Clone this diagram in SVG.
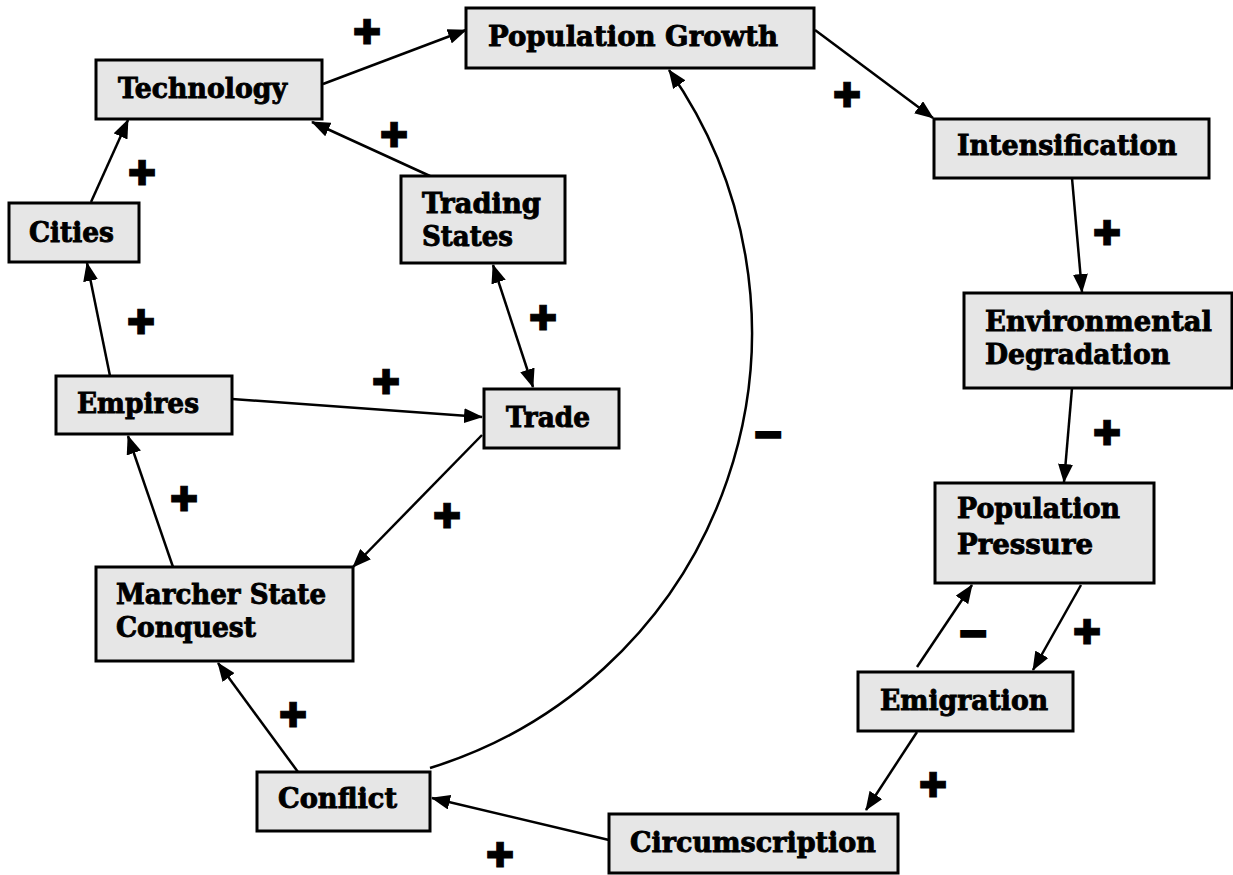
<svg xmlns="http://www.w3.org/2000/svg" width="1233" height="875" viewBox="0 0 1233 875">
<defs>
<marker id="ah" markerUnits="userSpaceOnUse" markerWidth="19" markerHeight="15" refX="18" refY="7.5" orient="auto-start-reverse" viewBox="0 0 19 15">
<path d="M0,0 L19,7.5 L0,15 z" fill="#000"/>
</marker>
<style>
.box{fill:#e6e6e6;stroke:#000;stroke-width:3}
.lbl{font-family:"DejaVu Serif","Liberation Serif",serif;font-weight:bold;font-size:27px;fill:#000;stroke:#000;stroke-width:0.9}
.c{fill:none;stroke:#000;stroke-width:2.5;marker-end:url(#ah)}
.pl{font-family:"DejaVu Sans",sans-serif;font-size:34px;fill:#000;stroke:#000;stroke-width:1;text-anchor:middle}
.mn{font-family:"DejaVu Sans",sans-serif;font-weight:bold;font-size:36px;fill:#000;stroke:#000;stroke-width:3.5;text-anchor:middle}
</style>
</defs>
<rect width="1233" height="875" fill="#fff"/>
<g id="connectors">
<line class="c" x1="323" y1="84" x2="466" y2="30"/>
<line class="c" x1="815" y1="30" x2="933" y2="118"/>
<line class="c" x1="430" y1="176" x2="312" y2="122"/>
<line class="c" x1="91" y1="202" x2="128" y2="120"/>
<line class="c" x1="1072" y1="178" x2="1082" y2="292"/>
<line class="c" x1="1072" y1="388" x2="1064" y2="482"/>
<line class="c" x1="493" y1="265" x2="533" y2="387" marker-start="url(#ah)"/>
<line class="c" x1="110" y1="376" x2="87" y2="263"/>
<line class="c" x1="232" y1="399" x2="482" y2="417"/>
<line class="c" x1="482" y1="435" x2="353" y2="567"/>
<line class="c" x1="173" y1="567" x2="128" y2="436"/>
<line class="c" x1="298" y1="772" x2="218" y2="663"/>
<line class="c" x1="1081" y1="585" x2="1033" y2="670"/>
<line class="c" x1="917" y1="667" x2="972" y2="585"/>
<line class="c" x1="917" y1="732" x2="866" y2="810"/>
<line class="c" x1="609" y1="840" x2="432" y2="798"/>
<path class="c" d="M430,768 A456,456 0 0 0 669,70"/>
</g>
<g id="signs">
<text class="pl" x="367" y="44">✚</text>
<text class="pl" x="847" y="107">✚</text>
<text class="pl" x="394" y="147">✚</text>
<text class="pl" x="142" y="185">✚</text>
<text class="pl" x="1107" y="245">✚</text>
<text class="pl" x="543" y="330">✚</text>
<text class="pl" x="141" y="334">✚</text>
<text class="pl" x="386" y="394">✚</text>
<text class="pl" x="1107" y="445">✚</text>
<text class="pl" x="184" y="511">✚</text>
<text class="pl" x="447" y="528">✚</text>
<text class="pl" x="1087" y="644">✚</text>
<text class="pl" x="293" y="727">✚</text>
<text class="pl" x="933" y="797">✚</text>
<text class="pl" x="500" y="867">✚</text>
<text class="mn" x="768" y="446">−</text>
<text class="mn" x="973" y="645">−</text>
</g>
<g id="n-popgrowth"><rect class="box" x="466" y="8" width="348" height="60"/><text class="lbl" x="488" y="46" textLength="290" lengthAdjust="spacingAndGlyphs">Population Growth</text></g>
<g id="n-technology"><rect class="box" x="96" y="60" width="226" height="59"/><text class="lbl" x="118" y="98" textLength="169" lengthAdjust="spacingAndGlyphs">Technology</text></g>
<g id="n-intensification"><rect class="box" x="934" y="119" width="275" height="59"/><text class="lbl" x="957" y="155" textLength="220" lengthAdjust="spacingAndGlyphs">Intensification</text></g>
<g id="n-cities"><rect class="box" x="9" y="203" width="130" height="59"/><text class="lbl" x="29" y="242" textLength="85" lengthAdjust="spacingAndGlyphs">Cities</text></g>
<g id="n-tradingstates"><rect class="box" x="401" y="176" width="164" height="87"/><text class="lbl" x="422" y="213" textLength="119" lengthAdjust="spacingAndGlyphs">Trading</text><text class="lbl" x="422" y="246" textLength="91" lengthAdjust="spacingAndGlyphs">States</text></g>
<g id="n-envdeg"><rect class="box" x="964" y="293" width="268" height="95"/><text class="lbl" x="985" y="331" textLength="227" lengthAdjust="spacingAndGlyphs">Environmental</text><text class="lbl" x="985" y="364" textLength="185" lengthAdjust="spacingAndGlyphs">Degradation</text></g>
<g id="n-empires"><rect class="box" x="56" y="376" width="176" height="58"/><text class="lbl" x="77" y="413" textLength="122" lengthAdjust="spacingAndGlyphs">Empires</text></g>
<g id="n-trade"><rect class="box" x="484" y="389" width="135" height="59"/><text class="lbl" x="506" y="427" textLength="84" lengthAdjust="spacingAndGlyphs">Trade</text></g>
<g id="n-poppressure"><rect class="box" x="935" y="483" width="219" height="100"/><text class="lbl" x="957" y="518" textLength="163" lengthAdjust="spacingAndGlyphs">Population</text><text class="lbl" x="957" y="554" textLength="136" lengthAdjust="spacingAndGlyphs">Pressure</text></g>
<g id="n-marcher"><rect class="box" x="96" y="567" width="257" height="94"/><text class="lbl" x="116" y="604" textLength="210" lengthAdjust="spacingAndGlyphs">Marcher State</text><text class="lbl" x="116" y="637" textLength="140" lengthAdjust="spacingAndGlyphs">Conquest</text></g>
<g id="n-emigration"><rect class="box" x="858" y="672" width="215" height="59"/><text class="lbl" x="880" y="710" textLength="168" lengthAdjust="spacingAndGlyphs">Emigration</text></g>
<g id="n-conflict"><rect class="box" x="257" y="772" width="173" height="59"/><text class="lbl" x="278" y="808" textLength="119" lengthAdjust="spacingAndGlyphs">Conflict</text></g>
<g id="n-circumscription"><rect class="box" x="609" y="814" width="289" height="59"/><text class="lbl" x="630" y="852" textLength="246" lengthAdjust="spacingAndGlyphs">Circumscription</text></g>
</svg>
